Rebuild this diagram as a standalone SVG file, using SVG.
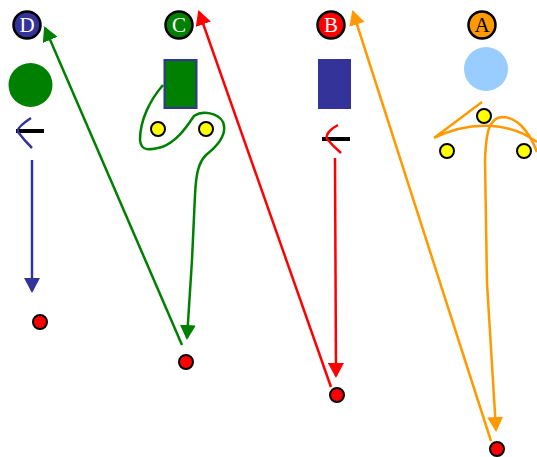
<svg xmlns="http://www.w3.org/2000/svg" width="537" height="457" viewBox="0 0 537 457">
<style>
.lbl{stroke:#000;stroke-width:2.5}
.lt{font-family:"Liberation Serif","Times New Roman",serif;font-size:21px;text-anchor:middle}
.dot{stroke:#000;stroke-width:2}
.yel{fill:#ffff00}
.red{fill:#ff0000}
.ln{fill:none;stroke-width:2.5}
</style>
<defs>
<marker id="hBlue" viewBox="0 0 15 16" refX="13" refY="8" markerWidth="15" markerHeight="16" markerUnits="userSpaceOnUse" orient="auto"><path d="M0,0L15,8L0,16z" fill="#333399"/></marker>
<marker id="hGreen" viewBox="0 0 15 16" refX="13" refY="8" markerWidth="15" markerHeight="16" markerUnits="userSpaceOnUse" orient="auto"><path d="M0,0L15,8L0,16z" fill="#008000"/></marker>
<marker id="hRed" viewBox="0 0 15 16" refX="13" refY="8" markerWidth="15" markerHeight="16" markerUnits="userSpaceOnUse" orient="auto"><path d="M0,0L15,8L0,16z" fill="#ff0000"/></marker>
<marker id="hOrange" viewBox="0 0 15 16" refX="13" refY="8" markerWidth="15" markerHeight="16" markerUnits="userSpaceOnUse" orient="auto"><path d="M0,0L15,8L0,16z" fill="#ff9900"/></marker>
</defs>
<rect width="537" height="457" fill="#fff"/>
<g id="nodeD">
<circle class="lbl" cx="27" cy="25" r="13.5" fill="#333399"/>
<text class="lt" x="27" y="32" fill="#fff">D</text>
<circle cx="30.5" cy="85" r="22" fill="#008000"/>
<line x1="16" y1="131" x2="44" y2="131" stroke="#000" stroke-width="4"/>
<path class="ln" d="M31,118 Q16,128 18,132 Q24,140 32,148" stroke="#333399" stroke-width="1.8"/>
<circle class="dot red" cx="40" cy="322" r="7"/>
</g>
<g id="nodeC">
<circle class="lbl" cx="179" cy="25" r="13.5" fill="#008000"/>
<text class="lt" x="179" y="32" fill="#fff">C</text>
<rect x="164.5" y="60" width="32" height="48" fill="#008000" stroke="#333399" stroke-width="2"/>
<circle class="dot yel" cx="158" cy="129" r="7"/>
<circle class="dot yel" cx="206" cy="129" r="7"/>
<circle class="dot red" cx="186" cy="362" r="7"/>
</g>
<g id="nodeB">
<circle class="lbl" cx="331" cy="25" r="13.5" fill="#ff0000"/>
<text class="lt" x="331" y="32" fill="#fff">B</text>
<rect x="318" y="59" width="33" height="50" fill="#333399"/>
<line x1="322" y1="139" x2="350" y2="139" stroke="#000" stroke-width="4"/>
<path class="ln" d="M338,125 Q325,132 327,139 Q333,146 341,153" stroke="#ff0000" stroke-width="1.8"/>
<circle class="dot red" cx="337" cy="395" r="7"/>
</g>
<g id="nodeA">
<circle class="lbl" cx="482" cy="25" r="13.5" fill="#ff9900"/>
<text class="lt" x="482" y="32" fill="#000">A</text>
<circle cx="486" cy="69" r="22" fill="#99ccff"/>
<circle class="dot yel" cx="484" cy="116" r="7"/>
<circle class="dot yel" cx="447" cy="151" r="7"/>
<circle class="dot yel" cx="524" cy="151" r="7"/>
<circle class="dot red" cx="497" cy="449" r="7"/>
</g>
<g id="connectors">
<path class="ln" d="M32,160 L32,291" stroke="#333399" marker-end="url(#hBlue)"/>
<path class="ln" d="M163,85 C150,100 140,120 140,140 C141,152 150,150 162,147 C176,142 186,128 194,116 C203,110 218,113 223,122 C228,135 215,148 206,155 C198,163 196,175 195,195 L192,260 L187,338" stroke="#008000" marker-end="url(#hGreen)"/>
<path class="ln" d="M182,345 L45,28" stroke="#008000" marker-end="url(#hGreen)"/>
<path class="ln" d="M335,158 L336,376" stroke="#ff0000" marker-end="url(#hRed)"/>
<path class="ln" d="M331,387 L199,12" stroke="#ff0000" marker-end="url(#hRed)"/>
<path class="ln" d="M482,102 L434,138 C470,120 510,122 537,142" stroke="#ff9900"/>
<path class="ln" d="M537,152 C528,128 515,117 502,117 C488,118 486,135 485,160 L487,283 L496,430" stroke="#ff9900" marker-end="url(#hOrange)"/>
<path class="ln" d="M491,441 L353,12" stroke="#ff9900" marker-end="url(#hOrange)"/>
</g>
</svg>
